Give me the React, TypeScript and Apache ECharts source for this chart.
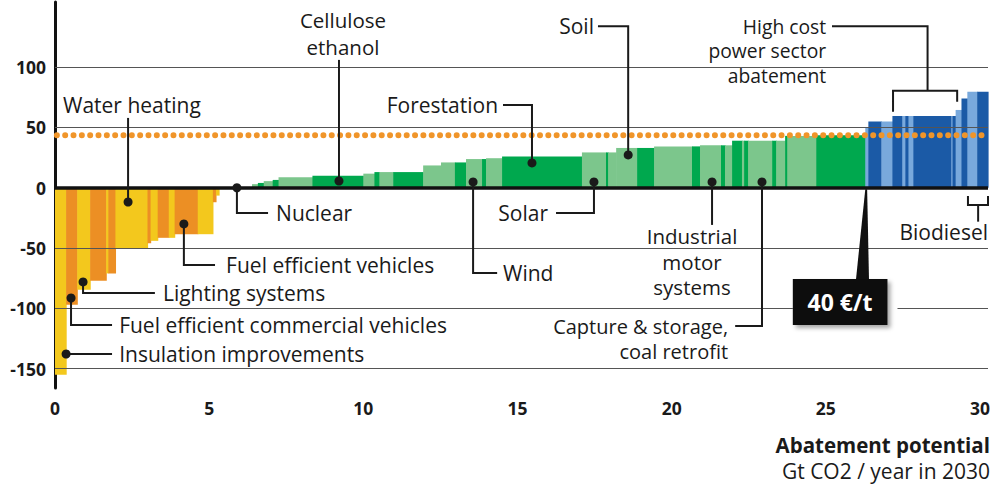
import React, { useEffect, useRef } from "react";
import * as echarts from "echarts";

// Abatement measures: width (Gt CO2/yr) and cost (€/t CO2), in curve order
const widths = [
  0.36, 0.36, 0.42, 0.52, 0.07, 0.23, 1.04, 0.1, 0.23, 0.36, 0.19, 0.75, 0.49, 0.1, 0.1,
  1.07,
  0.19, 0.19, 0.29, 0.19, 1.1, 1.65, 0.36, 0.16, 0.45, 0.97, 0.58, 0.45, 0.36, 0.52, 0.13,
  0.52, 2.59, 0.78, 0.07, 0.26, 0.68, 0.55, 1.23, 0.26, 0.68, 0.13, 0.23, 0.32, 0.07, 0.13,
  0.78, 0.13, 0.29, 0.07, 0.94, 1.59,
  0.1, 0.42, 0.36, 0.32, 0.1, 0.1, 0.16, 1.23, 0.04, 0.1, 0.19, 0.19, 0.32, 0.35,
];
const costs = [
  -155, -97, -84.5, -77, -71, -71, -50, -46, -44, -41.5, -41.5, -38.5, -38.5, -12, -6.5,
  0,
  3, 4, 5.5, 6.5, 8.8, 10, 11.7, 13, 13, 13, 18.5, 21, 21, 23.8, 23.8,
  24.5, 26, 29.3, 29.3, 29.3, 33, 33, 34.3, 34.3, 35.2, 35.2, 35.2, 39, 39, 39,
  39, 39, 39, 43, 43, 43.5,
  50, 55, 55, 59.5, 59.5, 59.5, 59.5, 59.5, 59.5, 59.5, 64.5, 74, 79.5, 79.5,
];
const groups = [
  "Y", "O", "Y", "O", "Y", "O", "Y", "O", "Y", "O", "Y", "O", "Y", "O", "Y",
  "N",
  "LG", "DG", "LG", "DG", "LG", "DG", "LG", "DG", "LG", "DG", "LG", "LG", "DG", "LG", "DG",
  "LG", "DG", "LG", "DG", "LG", "LG", "DG", "LG", "DG", "LG", "DG", "LG", "DG", "LG", "DG",
  "LG", "DG", "LG", "DG", "LG", "DG",
  "LB", "DB", "LB", "DB", "LB", "DB", "LB", "DB", "LB", "DB", "LB", "DB", "LB", "DB",
];
const yTickValues = [-150, -100, -50, 0, 50, 100];
const gridValues = [-150, -100, -50, 50, 100];
const priceLevel = 43.5;
const xMin = 0;
const xMax = 30.26;
const yMin = -166;
const yMax = 154;

const COLORS: Record<string, string> = {
  Y: "#f3c81d",
  O: "#ec8f24",
  N: "#7cc68c",
  LG: "#7cc68c",
  DG: "#00a84e",
  LB: "#79a9dc",
  DB: "#1b5aa6",
};

type Ann = {
  dot?: [number, number];
  paths: [number, number][][];
  text: string;
  at: [number, number];
  align: "left" | "right" | "center";
  lh?: number;
  fs?: number;
};

const annotations: Ann[] = [
  { dot: [2.37, -11.8], paths: [[[2.37, -11.8], [2.37, 57.9]]], text: "Water heating", at: [0.26, 68.7], align: "left" },
  { dot: [9.21, 5.6], paths: [[[9.21, 5.6], [9.21, 106]]], text: "Cellulose\nethanol", at: [9.34, 127.9], align: "center", lh: 27, fs: 20.5 },
  { dot: [15.47, 20.6], paths: [[[14.53, 68.7], [15.47, 68.7], [15.47, 20.6]]], text: "Forestation", at: [14.37, 68.7], align: "right" },
  { dot: [18.59, 27.2], paths: [[[17.61, 133.9], [18.59, 133.9], [18.59, 27.2]]], text: "Soil", at: [17.48, 133.9], align: "right" },
  {
    paths: [
      [[25.2, 133.9], [28.3, 133.9], [28.3, 80.5]],
      [[27.18, 63.1], [27.18, 80.5], [29.26, 80.5], [29.26, 71.4]],
    ],
    text: "High cost\npower sector\nabatement",
    at: [25.01, 113.4],
    align: "right",
    lh: 24.6,
    fs: 19.3,
  },
  { dot: [5.9, 0], paths: [[[5.9, 0], [5.9, -20.9], [6.91, -20.9]]], text: "Nuclear", at: [7.17, -20.9], align: "left" },
  { dot: [4.18, -30], paths: [[[4.18, -30], [4.18, -64], [5.19, -64]]], text: "Fuel efficient vehicles", at: [5.55, -64], align: "left" },
  { dot: [0.91, -78.1], paths: [[[0.91, -78.1], [0.91, -87.2], [3.24, -87.2]]], text: "Lighting systems", at: [3.5, -87.2], align: "left" },
  { dot: [0.52, -91.4], paths: [[[0.52, -91.4], [0.52, -113.8], [1.85, -113.8]]], text: "Fuel efficient commercial vehicles", at: [2.08, -113.8], align: "left" },
  { dot: [0.36, -137.8], paths: [[[0.36, -137.8], [1.85, -137.8]]], text: "Insulation improvements", at: [2.08, -137.8], align: "left" },
  { dot: [13.56, 4.8], paths: [[[13.56, 4.8], [13.56, -70.6], [14.34, -70.6]]], text: "Wind", at: [14.53, -70.6], align: "left" },
  { dot: [17.48, 4.8], paths: [[[17.48, 4.8], [17.48, -20.9], [16.25, -20.9]]], text: "Solar", at: [15.99, -20.9], align: "right" },
  { dot: [21.31, 4.8], paths: [[[21.31, 4.8], [21.31, -30.8]]], text: "Industrial\nmotor\nsystems", at: [20.66, -61.5], align: "center", lh: 25.5, fs: 20.5 },
  { dot: [22.93, 4.8], paths: [[[22.93, 4.8], [22.93, -114.6], [22.06, -114.6]]], text: "Capture & storage,\ncoal retrofit", at: [21.83, -125], align: "right", lh: 25, fs: 20 },
  {
    paths: [
      [[29.61, -6.8], [29.61, -14.3], [30.26, -14.3], [30.26, -6.8]],
      [[29.94, -14.3], [29.94, -28.1]],
    ],
    text: "Biodiesel",
    at: [30.26, -36.4],
    align: "right",
  },
];

const priceTag = {
  label: "40 €/t",
  box: [[23.93, -75.6], [27.0, -113.8]] as [number, number][],
  pointer: [[25.98, -75.6], [26.4, -75.6], [26.34, -1.2], [26.28, -1.2]] as [number, number][],
  textAt: [25.46, -94.5] as [number, number],
};

const FONT = "'Open Sans', 'DejaVu Sans', sans-serif";

export default function App() {
  const ref = useRef<HTMLDivElement>(null);

  useEffect(() => {
    document.body.style.margin = "0";
    if (!ref.current) return;
    const chart = echarts.init(ref.current, undefined, { renderer: "svg" });

    let acc = 0;
    const barData = widths.map((w, i) => {
      const s = acc;
      acc += w;
      return [s, acc, costs[i], i];
    });

    chart.setOption({
      animation: false,
      grid: { left: 55, right: 8, top: 2, bottom: 99 },
      xAxis: {
        type: "value",
        min: xMin,
        max: xMax,
        interval: 5,
        axisLine: { show: false },
        axisTick: { show: false },
        splitLine: { show: false },
        axisLabel: {
          fontFamily: FONT,
          fontWeight: "bold",
          fontSize: 17.5,
          color: "#1a1a1a",
          margin: 11,
          showMaxLabel: false,
        },
      },
      yAxis: {
        type: "value",
        min: yMin,
        max: yMax,
        axisLine: { show: true, onZero: false, lineStyle: { color: "#111", width: 3 } },
        axisTick: { show: false },
        splitLine: { show: false },
        axisLabel: {
          customValues: yTickValues,
          fontFamily: FONT,
          fontWeight: "bold",
          fontSize: 17.5,
          color: "#1a1a1a",
          margin: 9,
        },
      },
      series: [
        {
          type: "line",
          z: 1,
          data: [],
          silent: true,
          markLine: {
            silent: true,
            symbol: "none",
            label: { show: false },
            lineStyle: { color: "#555", width: 1, type: "solid" },
            data: gridValues.map((v) => ({ yAxis: v })),
          },
        },
        {
          type: "custom",
          z: 2,
          data: barData,
          encode: { x: [0, 1], y: 2 },
          renderItem: (params: any, api: any) => {
            const x0 = api.value(0);
            const x1 = api.value(1);
            const v = api.value(2);
            const idx = api.value(3);
            const a = api.coord([x0, 0]);
            const b = api.coord([x1, v]);
            return {
              type: "rect",
              shape: {
                x: a[0],
                y: Math.min(a[1], b[1]),
                width: b[0] - a[0] + 0.6,
                height: Math.abs(b[1] - a[1]),
              },
              style: { fill: COLORS[groups[idx]] },
            };
          },
        },
        {
          type: "line",
          z: 3,
          data: [],
          silent: true,
          markLine: {
            silent: true,
            symbol: "none",
            label: { show: false },
            lineStyle: { color: "#111", width: 3.5, type: "solid" },
            data: [{ yAxis: 0 }],
          },
        },
        {
          type: "line",
          z: 4,
          silent: true,
          symbol: "none",
          data: [
            [0.06, priceLevel],
            [xMax, priceLevel],
          ],
          lineStyle: { color: "#f0952a", width: 6, type: [0, 8.33], cap: "round" },
        },
      ],
    });

    const P = (p: [number, number]) => chart.convertToPixel({ xAxisIndex: 0, yAxisIndex: 0 }, p) as number[];

    const graphics: any[] = [];
    annotations.forEach((a) => {
      a.paths.forEach((path) => {
        graphics.push({
          type: "polyline",
          z: 50,
          shape: { points: path.map((p) => P(p)) },
          style: { stroke: "#1a1a1a", lineWidth: 2, fill: null },
        });
      });
      if (a.dot) {
        const d = P(a.dot);
        graphics.push({ type: "circle", z: 51, shape: { cx: d[0], cy: d[1], r: 4.5 }, style: { fill: "#1a1a1a" } });
      }
      const t = P(a.at);
      graphics.push({
        type: "text",
        z: 52,
        x: t[0],
        y: t[1],
        style: {
          text: a.text,
          fontFamily: FONT,
          fontSize: a.fs || 21,
          fill: "#1a1a1a",
          align: a.align,
          verticalAlign: "middle",
          lineHeight: a.lh || 24,
        },
      });
    });

    const b0 = P(priceTag.box[0]);
    const b1 = P(priceTag.box[1]);
    graphics.push({
      type: "rect",
      z: 60,
      shape: { x: b0[0], y: b0[1], width: b1[0] - b0[0] + 10, height: b1[1] - b0[1] + 5 },
      style: { fill: "#ffffff" },
    });
    graphics.push({
      type: "polygon",
      z: 61,
      shape: { points: priceTag.pointer.map((p) => P(p)) },
      style: { fill: "#111" },
    });
    graphics.push({
      type: "rect",
      z: 62,
      shape: { x: b0[0], y: b0[1], width: b1[0] - b0[0], height: b1[1] - b0[1] },
      style: {
        fill: "#111",
        shadowBlur: 4,
        shadowOffsetX: 3,
        shadowOffsetY: 3,
        shadowColor: "rgba(0,0,0,0.35)",
      },
    });
    const tp = P(priceTag.textAt);
    graphics.push({
      type: "text",
      z: 63,
      x: tp[0],
      y: tp[1],
      style: {
        text: priceTag.label,
        fontFamily: FONT,
        fontWeight: "bold",
        fontSize: 23,
        fill: "#ffffff",
        align: "center",
        verticalAlign: "middle",
      },
    });

    graphics.push({
      type: "text",
      z: 70,
      right: 6,
      top: 434,
      style: {
        text: "Abatement potential",
        fontFamily: FONT,
        fontWeight: "bold",
        fontSize: 20.5,
        fill: "#1a1a1a",
        align: "right",
      },
    });
    graphics.push({
      type: "text",
      z: 70,
      right: 6,
      top: 460,
      style: {
        text: "Gt CO2 / year in 2030",
        fontFamily: FONT,
        fontSize: 21,
        fill: "#1a1a1a",
        align: "right",
      },
    });

    chart.setOption({ graphic: graphics });

    return () => chart.dispose();
  }, []);

  return <div ref={ref} style={{ width: 996, height: 487 }} />;
}
